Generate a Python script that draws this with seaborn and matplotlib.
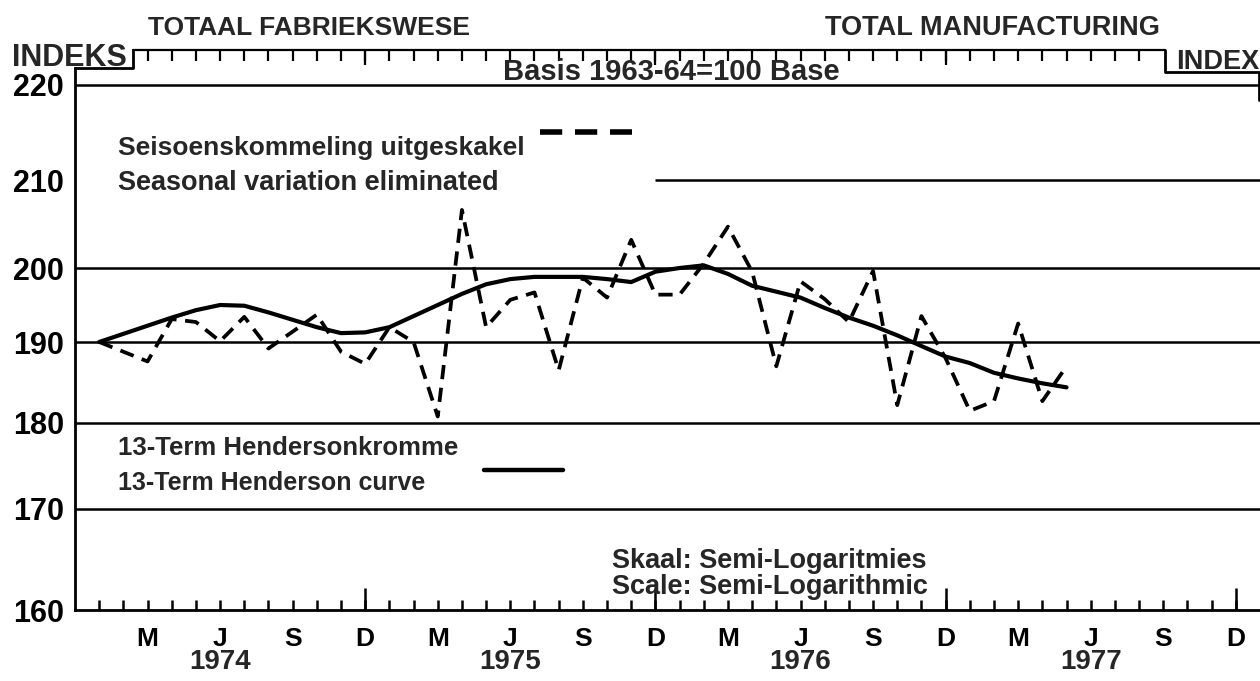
import numpy as np
import pandas as pd
import seaborn as sns
import matplotlib.pyplot as plt
from matplotlib.lines import Line2D
from matplotlib.transforms import blended_transform_factory

# months counted from Jan 1974 = 0
months = list(range(41))

# seasonal variation eliminated (dashed)
seasonal_adj = [190.0, 188.8, 187.6, 193.1, 192.7, 190.1, 193.4, 189.2, 191.4, 193.7,
                188.8, 187.3, 192.0, 190.0, 180.8, 206.6, 192.0, 195.7, 196.7, 186.5,
                198.7, 196.0, 203.2, 196.4, 196.4, 200.5, 204.7, 199.5, 187.0, 198.2,
                195.8, 192.7, 199.6, 182.2, 193.5, 188.0, 181.5, 182.7, 192.5, 182.7,
                187.0]
# 13-term Henderson curve (solid)
henderson = [190.0, 191.1, 192.2, 193.3, 194.3, 195.0, 194.9, 194.0, 193.0, 192.0,
             191.2, 191.3, 192.0, 193.5, 195.0, 196.5, 197.8, 198.5, 198.8, 198.8,
             198.8, 198.5, 198.1, 199.5, 200.0, 200.3, 199.2, 197.6, 196.8, 196.0,
             194.6, 193.3, 192.2, 190.9, 189.5, 188.2, 187.4, 186.2, 185.5, 184.9,
             184.4]

label_months = [2, 5, 8, 11, 14, 17, 20, 23, 26, 29, 32, 35, 38, 41, 44, 47]
month_labels = ["M", "J", "S", "D"] * 4
year_months = [5, 17, 29, 41]
year_labels = ["1974", "1975", "1976", "1977"]
december_months = [11, 23, 35, 47]
y_ticks = [160, 170, 180, 190, 200, 210, 220]

df = pd.DataFrame({"month": months, "adj": seasonal_adj, "hend": henderson})

W, H = 1260, 681
def fx(p):
    return p / W
def fy(p):
    return 1 - p / H

# the scanned semi-log grid is not evenly spaced, so calibrate the scale on it
BOT, TOP = 610, 68
grid_px = [BOT, 509, 423, 342, 268, 180, 85]
knot_vals = np.array([100] + y_ticks + [300], dtype=float)
knot_px = np.array([BOT + 60 * 10.1] + grid_px + [85 - 80 * 9.5], dtype=float)

def fwd(v):
    return -np.interp(v, knot_vals, knot_px)

def inv(u):
    return np.interp(-np.asarray(u), knot_px[::-1], knot_vals[::-1])

def ay(p):
    # figure pixel row -> axes fraction
    return (BOT - p) / (BOT - TOP)

sns.set_style("white")
plt.rcParams["font.family"] = ["Liberation Sans", "DejaVu Sans"]
plt.rcParams["font.weight"] = "bold"

fig = plt.figure(figsize=(12.6, 6.81), dpi=100)
ax = fig.add_axes([fx(75), fy(BOT), 1 - fx(75), (BOT - TOP) / H])
ax.set_yscale("function", functions=(fwd, inv))

sns.lineplot(data=df, x="month", y="adj", ax=ax, color="black", lw=2.7,
             linestyle=(0, (3.8, 2.3)), errorbar=None)
sns.lineplot(data=df, x="month", y="hend", ax=ax, color="black", lw=3.0,
             errorbar=None, solid_joinstyle="round")

ax.set_xlim(-1, 48)
ax.set_ylim(160, float(inv(-TOP)))

# horizontal rules
for v in y_ticks[1:]:
    start = 23 if v == 210 else -1
    ax.hlines(v, start, 48, color="black", lw=1.8, zorder=1)

for s in ["top", "right"]:
    ax.spines[s].set_visible(False)
for s in ["left", "bottom"]:
    ax.spines[s].set_color("black")
    ax.spines[s].set_linewidth(2)

ax.set_yticks(y_ticks)
ax.set_yticklabels([str(v) for v in y_ticks], fontsize=22, fontweight="bold")
ax.set_xticks(label_months)
ax.set_xticklabels(month_labels, fontsize=19, fontweight="bold")
ax.set_xticks(range(0, 48), minor=True)
ax.tick_params(axis="x", which="both", bottom=True, direction="in", length=7,
               width=1.8, pad=12, colors="black")
ax.tick_params(axis="y", left=False, length=0, pad=8, colors="black")
ax.set_xlabel("")
ax.set_ylabel("")

bt = blended_transform_factory(ax.transData, ax.transAxes)
ax.vlines(december_months, 0, ay(BOT - 22), color="black", lw=1.8, transform=bt, clip_on=False)
for m, yr in zip(year_months, year_labels):
    ax.text(m, ay(662), yr, transform=bt, ha="center", va="center",
            fontsize=20, fontweight="bold")

# top tick row and brackets
ax.vlines(range(2, 44), ay(61), ay(50), color="black", lw=1.6, transform=bt, clip_on=False)
ax.vlines([11, 23, 35], ay(65), ay(50), color="black", lw=1.6, transform=bt, clip_on=False)
ax.plot([1.38, 44.06], [ay(50), ay(50)], color="black", lw=1.6, transform=bt, clip_on=False)
ax.plot([-1, 1.38, 1.38], [1.0, 1.0, ay(50)], color="black", lw=2, transform=bt, clip_on=False)
ax.plot([44.06, 44.06, 47.95, 47.95], [ay(50), ay(72), ay(72), ay(100)],
        color="black", lw=2, transform=bt, clip_on=False)

# headings
fig.text(fx(148), fy(28), "TOTAAL FABRIEKSWESE", fontsize=19, fontweight="bold", va="center")
fig.text(fx(1160), fy(28), "TOTAL MANUFACTURING", fontsize=19.5, fontweight="bold",
         va="center", ha="right")
fig.text(fx(12), fy(58), "INDEKS", fontsize=22, fontweight="bold", va="center")
fig.text(fx(1176), fy(62), "INDEX", fontsize=19.5, fontweight="bold", va="center")
fig.text(fx(671), fy(72), "Basis 1963-64=100 Base", fontsize=21, fontweight="bold",
         va="center", ha="center")

# legend notes
fig.text(fx(118), fy(148), "Seisoenskommeling uitgeskakel", fontsize=19, fontweight="bold", va="center")
fig.text(fx(118), fy(183), "Seasonal variation eliminated", fontsize=19.5, fontweight="bold", va="center")
fig.add_artist(Line2D([fx(540), fx(632)], [fy(132), fy(132)], color="black", lw=4,
                      dashes=(4, 2.3), transform=fig.transFigure))
fig.text(fx(118), fy(448), "13-Term Hendersonkromme", fontsize=18.5, fontweight="bold", va="center")
fig.text(fx(118), fy(483), "13-Term Henderson curve", fontsize=18, fontweight="bold", va="center")
fig.add_artist(Line2D([fx(484), fx(563)], [fy(470), fy(470)], color="black", lw=3.2,
                      transform=fig.transFigure))
fig.text(fx(612), fy(561), "Skaal: Semi-Logaritmies", fontsize=19.5, fontweight="bold", va="center")
fig.text(fx(612), fy(587), "Scale: Semi-Logarithmic", fontsize=19.5, fontweight="bold", va="center")

fig.savefig("out.png", dpi=100)
